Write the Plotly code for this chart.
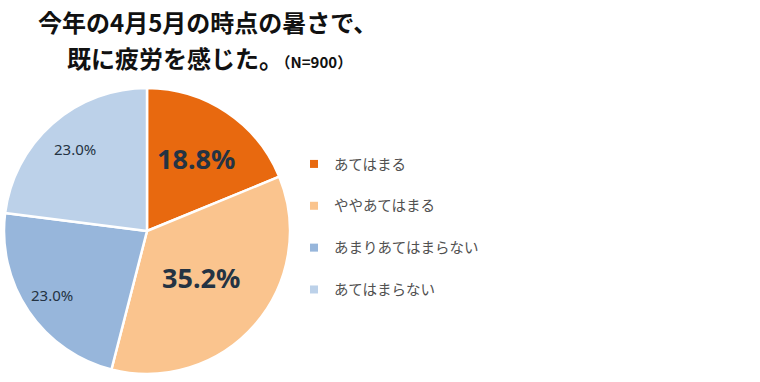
import math
import plotly.graph_objects as go

categories = ["あてはまる", "ややあてはまる", "あまりあてはまらない", "あてはまらない"]
values = [18.8, 35.2, 23.0, 23.0]

colors = ["#E8690F", "#FAC48E", "#97B6DB", "#BCD1E9"]
label_sizes = [27, 27, 15, 15]
label_bold = [True, True, False, False]
label_radius = [0.61, 0.5, 0.8, 0.76]  # fraction of pie radius for label placement

W, H = 760, 382
dom_x = [4 / W, 290 / W]
dom_y = [1 - 374 / H, 1 - 88 / H]

fig = go.Figure()
fig.add_trace(go.Pie(
    labels=categories,
    values=values,
    textinfo="none",
    marker=dict(colors=colors, line=dict(color="white", width=2.5)),
    sort=False,
    direction="clockwise",
    rotation=0,
    showlegend=False,
    hoverinfo="label+percent",
    domain=dict(x=dom_x, y=dom_y),
))

for cat, col in zip(categories, colors):
    fig.add_trace(go.Scatter(
        x=[None], y=[None], mode="markers", name=cat, legendgroup=cat,
        marker=dict(symbol="square", size=8, color=col),
    ))

# slice labels placed along each slice's bisector (computed from the values)
cx = (dom_x[0] + dom_x[1]) / 2 * W
cy = (1 - (dom_y[0] + dom_y[1]) / 2) * H
R = min((dom_x[1] - dom_x[0]) * W, (dom_y[1] - dom_y[0]) * H) / 2
total = sum(values)
annotations = []
cum = 0.0
for v, size, bold, rf in zip(values, label_sizes, label_bold, label_radius):
    mid = (cum + v / 2) / total * 2 * math.pi
    cum += v
    px = cx + rf * R * math.sin(mid)
    py = cy - rf * R * math.cos(mid)
    txt = f"{v / total * 100:.1f}%"
    annotations.append(dict(
        text=f"<b>{txt}</b>" if bold else txt,
        x=px / W, y=1 - py / H, xref="paper", yref="paper",
        xanchor="center", yanchor="middle", showarrow=False,
        font=dict(size=size, color="#243343", family="Noto Sans"),
    ))

annotations += [
    dict(text="<b>今年の4月5月の時点の暑さで、</b>", x=36 / W, y=1 - 21 / H,
         xref="paper", yref="paper", xanchor="left", yanchor="middle",
         showarrow=False, font=dict(size=24, color="#111111", family="Noto Sans CJK JP")),
    dict(text="<b>既に疲労を感じた。</b><b><span style='font-size:15px'>（N=900）</span></b>",
         x=65 / W, y=1 - 57 / H,
         xref="paper", yref="paper", xanchor="left", yanchor="middle",
         showarrow=False, font=dict(size=24, color="#111111", family="Noto Sans CJK JP")),
]

fig.update_layout(
    width=W, height=H,
    margin=dict(l=0, r=0, t=0, b=0),
    paper_bgcolor="white", plot_bgcolor="white",
    xaxis=dict(visible=False), yaxis=dict(visible=False),
    font=dict(family="Noto Sans CJK JP"),
    legend=dict(
        x=294 / W, y=1 - 148 / H, xanchor="left", yanchor="top",
        font=dict(size=14.5, color="#505050", family="Noto Sans CJK JP"),
        tracegroupgap=20, itemwidth=30,
        bgcolor="rgba(0,0,0,0)",
    ),
    annotations=annotations,
)

fig.write_html("out.html", config={"displayModeBar": False},
               post_script="document.body.style.margin='0px';")
